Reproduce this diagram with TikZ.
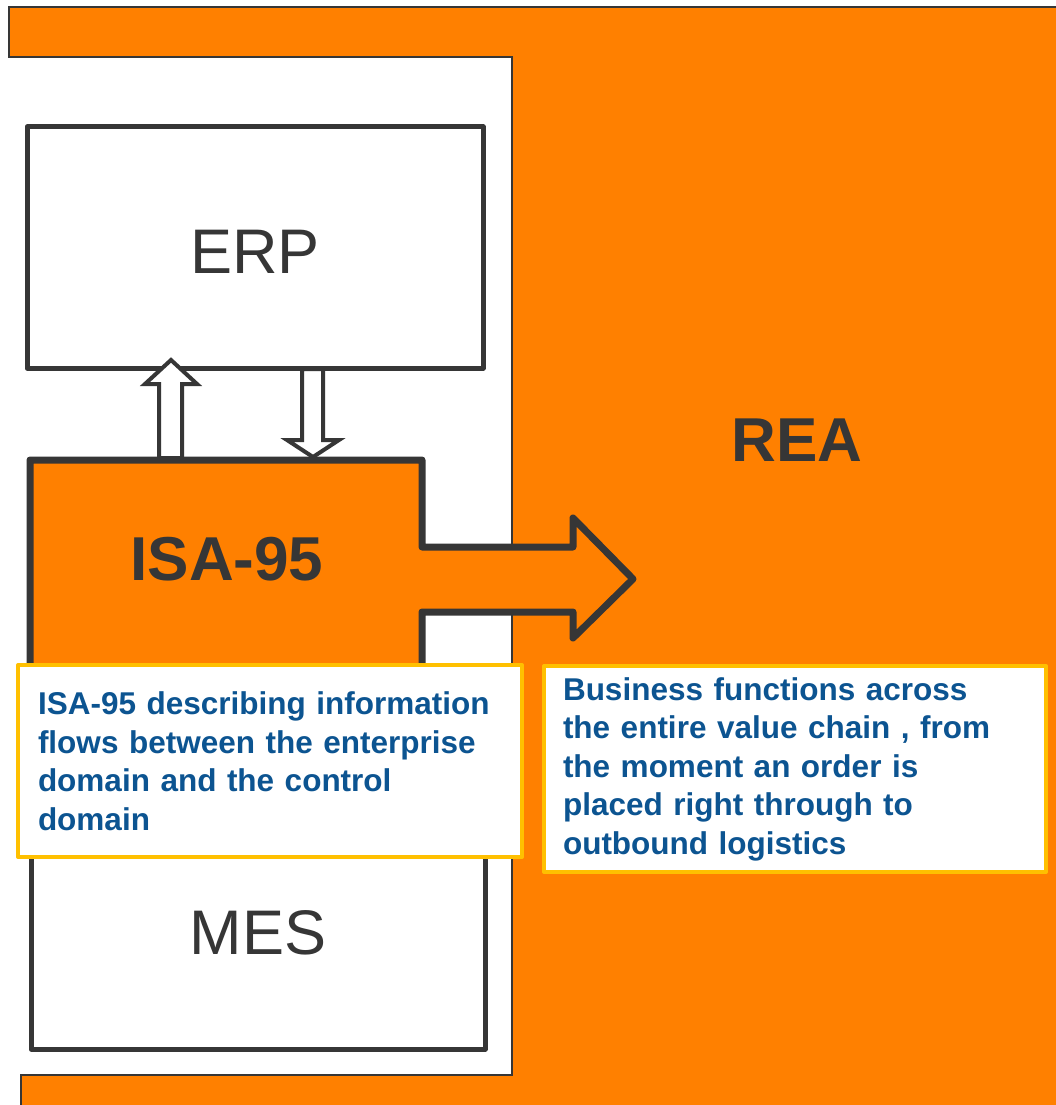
\documentclass[tikz,border=0pt]{standalone}
\usepackage{fontspec}
\setmainfont{Liberation Sans}
\definecolor{brandorange}{RGB}{255,128,0}
\definecolor{edgegray}{RGB}{54,54,54}
\definecolor{noteyellow}{RGB}{255,192,0}
\definecolor{noteblue}{RGB}{12,84,145}

\begin{document}
\begin{tikzpicture}[x=1pt,y=-1pt,line join=round,
  sysbox/.style={draw=edgegray,line width=5pt,fill=white},
  flowarrow/.style={draw=edgegray,line width=4pt,fill=white,line join=miter},
  note/.style={draw=noteyellow,line width=4pt,fill=white,text=noteblue,
    font=\fontsize{31.5}{38.5}\selectfont\bfseries,align=left,
    inner xsep=20pt,inner ysep=0pt,anchor=north west},
  systext/.style={font=\fontsize{63}{70}\selectfont,text=edgegray,inner sep=0pt},
  headtext/.style={font=\fontsize{62}{70}\selectfont\bfseries,text=edgegray,inner sep=0pt}
]
\useasboundingbox (0,0) rectangle (1055,1105);
\fill[white] (0,0) rectangle (1055,1105);

% orange REA area wrapping the white ISA-95 column
\draw[draw=edgegray,line width=2pt,fill=brandorange,line join=miter]
  (9,7) -- (1070,7) -- (1070,1120) -- (21,1120) -- (21,1075)
  -- (512,1075) -- (512,57) -- (9,57) -- cycle;

% ERP system
\draw[sysbox] (27,127) rectangle (483,368);
\node[systext] (erp) at (255,252) {ERP};

% MES system
\draw[sysbox] (31,720) rectangle (485,1049);
\node[systext] (mes) at (258,933) {MES};

% ISA-95 block merging into the arrow towards REA
\draw[draw=edgegray,line width=7pt,fill=brandorange]
  (30,460) -- (422,460) -- (422,547) -- (573,547) -- (573,518)
  -- (633,579) -- (573,638) -- (573,612) -- (422,612) -- (422,760)
  -- (30,760) -- cycle;
\node[headtext] (isa) at (227,559) {ISA-95};
\node[headtext] (rea) at (797,440) {REA};

% hollow arrows between ERP and ISA-95
\draw[flowarrow] (159,458) -- (159,384) -- (145,384) -- (171,360)
  -- (197,384) -- (182,384) -- (182,458) -- cycle;
\draw[flowarrow] (302,369) -- (302,440) -- (287,440) -- (313,457)
  -- (339,440) -- (323,440) -- (323,369) -- cycle;

% explanatory notes
\node[note,text width=464pt,minimum width=504pt,minimum height=192pt]
  (isanote) at (16,663)
  {ISA-95 describing information\\flows between the enterprise\\domain and the control\\domain};
\node[note,inner xsep=19pt,text width=464pt,minimum width=502pt,minimum height=206pt]
  (reanote) at (542,664)
  {Business functions across\\the entire value chain , from\\the moment an order is\\placed right through to\\outbound logistics};
\end{tikzpicture}
\end{document}
